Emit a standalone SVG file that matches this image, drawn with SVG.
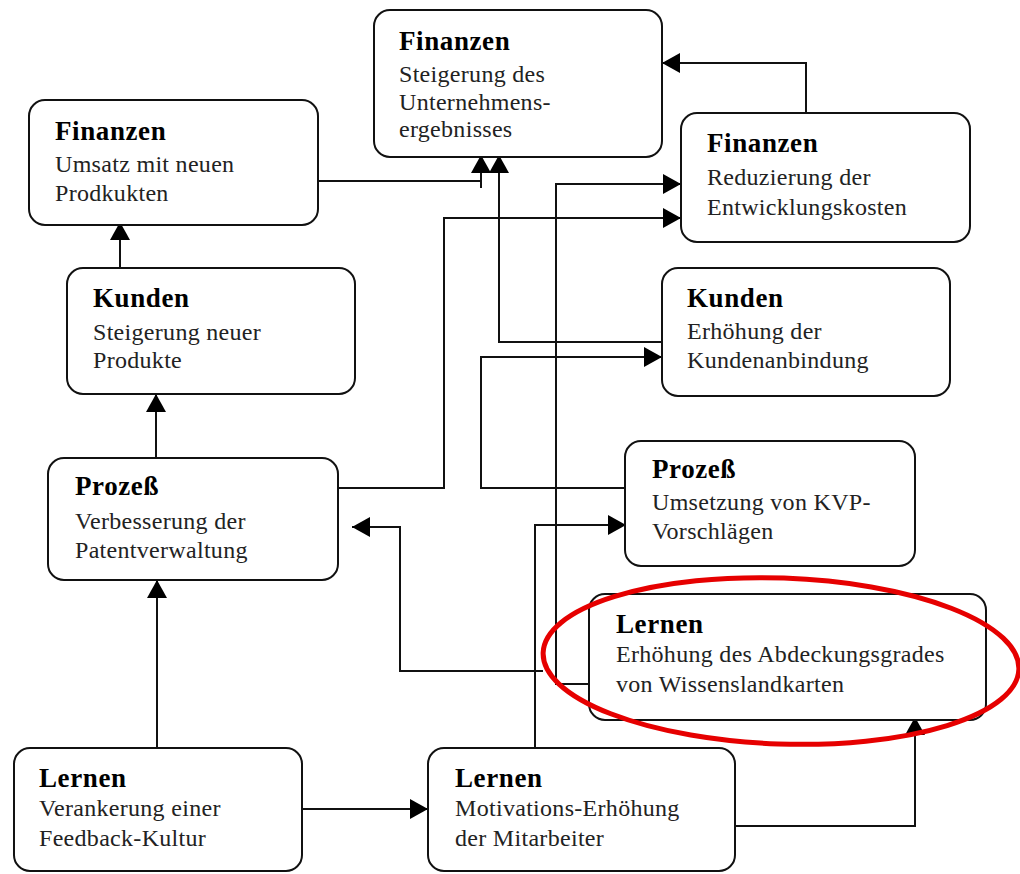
<svg xmlns="http://www.w3.org/2000/svg" width="1020" height="874" viewBox="0 0 1020 874">
  <style>
    .box { fill: #ffffff; stroke: #111; stroke-width: 2; }
    .title { font-family: "Liberation Serif", "Times New Roman", serif; font-weight: bold; font-size: 27px; fill: #000; letter-spacing: 0.6px; }
    .body { font-family: "Liberation Serif", "Times New Roman", serif; font-size: 24px; fill: #222; letter-spacing: 0.3px; }
    .conn { fill: none; stroke: #111; stroke-width: 2; }
    .arr { marker-end: url(#ah); }
    .mark { fill: none; stroke: #e60000; stroke-width: 5; }
  </style>
  <defs>
    <marker id="ah" markerUnits="userSpaceOnUse" markerWidth="18" markerHeight="20" refX="18" refY="10" orient="auto">
      <path d="M0,0 L18,10 L0,20 z" fill="#000"/>
    </marker>
  </defs>

  <rect x="0" y="0" width="1020" height="874" fill="#ffffff"/>

  <!-- connectors -->
  <g id="connectors">
    <path class="conn arr" d="M318,181 H481 V155"/>
    <path class="conn" d="M481,181 V188"/>
    <path class="conn arr" d="M662,342 H499 V155"/>
    <path class="conn arr" d="M338,488 H444 V218 H681"/>
    <path class="conn arr" d="M589,684 H556 V184 H681"/>
    <path class="conn arr" d="M626,488 H481 V357 H662"/>
    <path class="conn arr" d="M535,748 V525 H626"/>
    <path class="conn arr" d="M543,671 H400 V527 H352"/>
    <path class="conn arr" d="M157,748 V580"/>
    <path class="conn arr" d="M156,458 V394"/>
    <path class="conn arr" d="M120,268 V222"/>
    <path class="conn arr" d="M302,809 H428"/>
    <path class="conn arr" d="M735,826 H915 V717"/>
    <path class="conn arr" d="M806,113 V63 H662"/>
  </g>

  <!-- nodes -->
  <g id="fin-ergebnis">
    <rect class="box" x="374" y="10" width="288" height="147" rx="16"/>
    <text class="title" x="399" y="50">Finanzen</text>
    <text class="body" x="399" y="82">Steigerung des</text>
    <text class="body" x="399" y="110">Unternehmens-</text>
    <text class="body" x="399" y="137">ergebnisses</text>
  </g>

  <g id="fin-umsatz">
    <rect class="box" x="29" y="100" width="289" height="125" rx="16"/>
    <text class="title" x="55" y="140">Finanzen</text>
    <text class="body" x="55" y="172">Umsatz mit neuen</text>
    <text class="body" x="55" y="201">Prodkukten</text>
  </g>

  <g id="kunden-produkte">
    <rect class="box" x="67" y="268" width="288" height="126" rx="16"/>
    <text class="title" x="93" y="307">Kunden</text>
    <text class="body" x="93" y="340">Steigerung neuer</text>
    <text class="body" x="93" y="368">Produkte</text>
  </g>

  <g id="prozess-patent">
    <rect class="box" x="48" y="458" width="290" height="122" rx="16"/>
    <text class="title" x="75" y="495">Prozeß</text>
    <text class="body" x="75" y="529">Verbesserung der</text>
    <text class="body" x="75" y="558">Patentverwaltung</text>
  </g>

  <g id="lernen-feedback">
    <rect class="box" x="14" y="748" width="288" height="123" rx="16"/>
    <text class="title" x="39" y="787">Lernen</text>
    <text class="body" x="39" y="816">Verankerung einer</text>
    <text class="body" x="39" y="846">Feedback-Kultur</text>
  </g>

  <g id="lernen-motivation">
    <rect class="box" x="428" y="748" width="307" height="123" rx="16"/>
    <text class="title" x="455" y="787">Lernen</text>
    <text class="body" x="455" y="816">Motivations-Erhöhung</text>
    <text class="body" x="455" y="846">der Mitarbeiter</text>
  </g>

  <g id="fin-entwicklung">
    <rect class="box" x="681" y="113" width="289" height="129" rx="16"/>
    <text class="title" x="707" y="152">Finanzen</text>
    <text class="body" x="707" y="185">Reduzierung der</text>
    <text class="body" x="707" y="215">Entwicklungskosten</text>
  </g>

  <g id="kunden-anbindung">
    <rect class="box" x="662" y="268" width="288" height="128" rx="16"/>
    <text class="title" x="687" y="307">Kunden</text>
    <text class="body" x="687" y="339">Erhöhung der</text>
    <text class="body" x="687" y="368">Kundenanbindung</text>
  </g>

  <g id="prozess-kvp">
    <rect class="box" x="625" y="441" width="290" height="125" rx="16"/>
    <text class="title" x="652" y="478">Prozeß</text>
    <text class="body" x="652" y="510">Umsetzung von KVP-</text>
    <text class="body" x="652" y="539">Vorschlägen</text>
  </g>

  <g id="lernen-wissen">
    <rect class="box" x="589" y="594" width="397" height="126" rx="16"/>
    <text class="title" x="616" y="633">Lernen</text>
    <text class="body" x="616" y="662">Erhöhung des Abdeckungsgrades</text>
    <text class="body" x="616" y="692">von Wissenslandkarten</text>
  </g>

  <!-- red highlight ring -->
  <ellipse class="mark" cx="781" cy="661" rx="238" ry="83" transform="rotate(2 781 661)"/>
</svg>
